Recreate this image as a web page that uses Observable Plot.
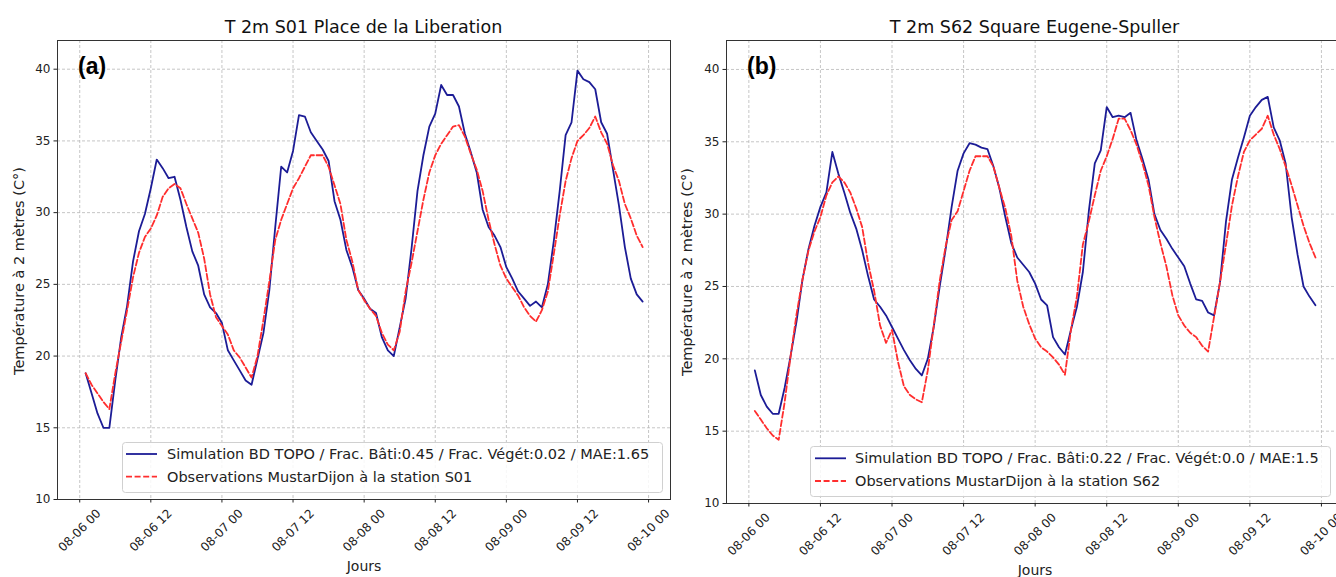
<!DOCTYPE html>
<html>
<head>
<meta charset="utf-8">
<script src="https://cdn.jsdelivr.net/npm/d3@7"></script>
<script src="https://cdn.jsdelivr.net/npm/@observablehq/plot@0.6"></script>
<style>
  html, body { margin: 0; padding: 0; background: #fff; overflow: hidden; }
  #wrap { position: relative; width: 1336px; height: 577px; overflow: hidden; }
  .panel { position: absolute; top: 0; width: 690px; height: 577px; }
  .panel svg { max-width: none !important; }
  #overlay { position: absolute; left: 0; top: 0; pointer-events: none; }
</style>
</head>
<body>
<div id="wrap">
  <div id="left" class="panel" style="left:0px"></div>
  <div id="right" class="panel" style="left:668px"></div>
  <svg id="overlay" width="1336" height="577"></svg>
</div>
<script>
// ---- Data ----
const hours = [1,2,3,4,5,6,7,8,9,10,11,12,13,14,15,16,17,18,19,20,21,22,23,24,25,26,27,28,29,30,31,32,33,34,35,36,37,38,39,40,41,42,43,44,45,46,47,48,49,50,51,52,53,54,55,56,57,58,59,60,61,62,63,64,65,66,67,68,69,70,71,72,73,74,75,76,77,78,79,80,81,82,83,84,85,86,87,88,89,90,91,92,93,94,95];

const tickHours = [0, 12, 24, 36, 48, 60, 72, 84, 96];
const tickLabels = ["08-06 00", "08-06 12", "08-07 00", "08-07 12", "08-08 00", "08-08 12", "08-09 00", "08-09 12", "08-10 00"];
const yTicks = [10, 15, 20, 25, 30, 35, 40];

const titles = ["T 2m S01 Place de la Liberation", "T 2m S62 Square Eugene-Spuller"];
const panelTags = ["(a)", "(b)"];
const yLabel = "Température à 2 mètres (C°)";
const xLabel = "Jours";
const simLegend = ["Simulation BD TOPO / Frac. Bâti:0.45 / Frac. Végét:0.02 / MAE:1.65",
                   "Simulation BD TOPO / Frac. Bâti:0.22 / Frac. Végét:0.0 / MAE:1.5"];
const obsLegend = ["Observations MustarDijon à la station S01",
                   "Observations MustarDijon à la station S62"];

// S01 Place de la Liberation
const simS01 = [18.8,17.4,16.0,15.0,15.0,18.3,21.3,23.5,26.6,28.7,
                29.9,31.7,33.7,33.1,32.4,32.5,30.9,29.0,27.3,26.3,
                24.3,23.4,23.0,22.3,20.4,19.7,19.0,18.3,18.0,19.8,
                21.6,24.6,29.0,33.2,32.8,34.3,36.8,36.7,35.6,35.0,
                34.4,33.6,30.8,29.5,27.4,26.2,24.6,24.0,23.3,23.0,
                21.3,20.4,20.0,22.0,24.0,27.5,31.5,34.0,36.0,36.9,
                38.9,38.2,38.2,37.4,35.5,34.2,32.8,30.2,29.0,28.4,
                27.6,26.2,25.4,24.5,24.0,23.5,23.8,23.4,25.0,28.0,
                31.5,35.4,36.3,39.9,39.3,39.1,38.6,36.3,35.5,33.0,
                30.5,27.6,25.4,24.3,23.8];
const obsS01 = [18.8,18.0,17.4,16.8,16.3,18.8,21.0,23.2,25.5,27.2,
                28.3,28.9,29.8,31.1,31.7,32.0,31.7,30.6,29.6,28.6,
                26.8,24.3,22.7,22.1,21.5,20.4,19.9,19.2,18.5,20.0,
                22.5,25.2,28.1,29.5,30.6,31.7,32.4,33.2,34.0,34.0,
                34.0,33.2,31.9,30.6,28.1,26.6,24.6,23.9,23.3,22.8,
                21.6,20.8,20.4,21.7,24.5,26.5,28.7,30.9,32.8,34.0,
                34.8,35.4,36.0,36.1,35.3,34.1,33.0,31.5,29.5,27.8,
                26.3,25.4,24.8,24.2,23.4,22.8,22.4,23.2,24.5,27.1,
                29.8,32.2,33.8,35.0,35.4,35.9,36.7,35.6,34.8,33.3,
                32.2,30.6,29.6,28.4,27.6];
// S62 Square Eugene-Spuller
const simS62 = [19.2,17.5,16.7,16.2,16.2,18.0,20.2,22.6,25.5,27.6,
                29.2,30.5,31.5,34.3,32.8,31.5,30.1,29.0,27.5,25.7,
                24.1,23.6,23.0,22.2,21.4,20.6,19.9,19.3,18.85,20.0,
                22.2,25.0,27.6,30.5,33.0,34.2,34.9,34.8,34.6,34.5,
                33.3,31.8,29.8,28.0,27.0,26.5,26.0,25.2,24.1,23.7,
                21.5,20.8,20.3,22.0,23.6,26.0,30.2,33.5,34.4,37.4,
                36.7,36.8,36.7,37.0,35.1,33.8,32.4,30.0,28.9,28.3,
                27.6,27.0,26.4,25.2,24.1,24.0,23.2,23.0,25.3,29.5,
                32.4,33.9,35.3,36.8,37.4,37.9,38.1,36.0,35.1,33.5,
                29.8,27.2,25.0,24.3,23.7];
const obsS62 = [16.4,15.8,15.2,14.7,14.4,17.0,20.2,23.1,25.5,27.5,
                28.8,29.8,31.3,32.2,32.6,32.2,31.5,30.4,29.1,26.6,
                24.7,22.3,21.1,22.0,19.8,18.1,17.5,17.2,17.0,19.2,
                22.3,25.4,27.8,29.6,30.2,31.6,33.0,34.0,34.0,34.0,
                33.3,31.8,30.4,28.5,25.4,23.6,22.4,21.4,20.8,20.5,
                20.1,19.6,18.9,22.0,24.3,27.9,29.5,31.3,33.0,34.0,
                35.2,36.6,36.6,35.8,34.8,33.5,32.0,29.8,28.0,26.4,
                24.4,23.0,22.3,21.8,21.5,20.9,20.5,22.9,25.3,27.9,
                30.6,32.6,34.3,35.1,35.5,35.9,36.8,35.5,34.5,33.3,
                32.0,30.6,29.2,28.0,27.0];

// ---- Style ----
const SIM_COLOR = "#1c1c96";
const OBS_COLOR = "#ff2e2e";
const GRID = "#b8b8b8";

function panel(sim, obs, m) {
  const simData = hours.map((h, i) => ({h, v: sim[i]}));
  const obsData = hours.map((h, i) => ({h, v: obs[i]}));
  return Plot.plot({
    width: m.width, height: 577,
    marginLeft: m.left, marginRight: m.right, marginTop: m.top, marginBottom: m.bottom,
    style: {fontFamily: "DejaVu Sans, sans-serif", fontSize: "12px", color: "#222", background: "transparent", overflow: "visible", maxWidth: "none"},
    x: {domain: [-3.75, 99.7], axis: null},
    y: {domain: [10, 42], axis: null},
    marks: [
      Plot.gridX(tickHours, {stroke: GRID, strokeOpacity: 1, strokeDasharray: "3,2", strokeWidth: 0.8}),
      Plot.gridY(yTicks, {stroke: GRID, strokeOpacity: 1, strokeDasharray: "3,2", strokeWidth: 0.8}),
      Plot.line(simData, {x: "h", y: "v", stroke: SIM_COLOR, strokeWidth: 1.8}),
      Plot.line(obsData, {x: "h", y: "v", stroke: OBS_COLOR, strokeWidth: 1.8, strokeDasharray: "6,2.6"}),
      Plot.frame({stroke: "#333", strokeWidth: 1}),
      Plot.axisY(yTicks, {tickSize: 3.5, tickPadding: 3.5, label: null, fontSize: 12}),
      Plot.axisX(tickHours, {tickSize: 3.5, tickFormat: () => "", label: null}),
      Plot.text(tickHours, {x: d => d, text: (d, i) => tickLabels[i], frameAnchor: "bottom",
        rotate: -45, textAnchor: "middle", lineAnchor: "middle", dy: 31, fontSize: 12, fill: "#222"})
    ]
  });
}

document.getElementById("left").append(panel(simS01, obsS01, {width: 690, left: 57, right: 20, top: 40, bottom: 78}));
document.getElementById("right").append(panel(simS62, obsS62, {width: 690, left: 58, right: 15, top: 40, bottom: 74}));

// ---- Overlay texts & legends ----
const ov = d3.select("#overlay");
const F = "DejaVu Sans, sans-serif";
const cfg = [
  {title: 363.5, ylab: [19, 271], xlab: [364, 571], tag: 78, leg: {x: 122, y: 442, w: 540, h: 50, lx: 126, tx: 167, r1: 454, r2: 476.7}},
  {title: 1034.5, ylab: [687, 272], xlab: [1035, 575], tag: 747, leg: {x: 810, y: 446, w: 520, h: 50, lx: 815, tx: 855, r1: 458.3, r2: 481}}
];
cfg.forEach((c, i) => {
  ov.append("text").attr("x", c.title).attr("y", 33).attr("text-anchor", "middle")
    .attr("font-family", F).attr("font-size", 17.5).attr("fill", "#111").text(titles[i]);
  ov.append("text").attr("transform", `translate(${c.ylab[0]},${c.ylab[1]}) rotate(-90)`)
    .attr("text-anchor", "middle").attr("dominant-baseline", "central")
    .attr("font-family", F).attr("font-size", 14.5).attr("fill", "#222").text(yLabel);
  ov.append("text").attr("x", c.xlab[0]).attr("y", c.xlab[1]).attr("text-anchor", "middle")
    .attr("font-family", F).attr("font-size", 14).attr("fill", "#222").text(xLabel);
  ov.append("text").attr("x", c.tag).attr("y", 73.5)
    .attr("font-family", "Liberation Sans, Arial, sans-serif").attr("font-weight", "bold")
    .attr("font-size", 23).attr("fill", "#000").text(panelTags[i]);
  const L = c.leg;
  ov.append("rect").attr("x", L.x + 0.5).attr("y", L.y + 0.5).attr("width", L.w).attr("height", L.h)
    .attr("rx", 3).attr("fill", "#fff").attr("fill-opacity", 0.85).attr("stroke", "#d0d0d0");
  ov.append("line").attr("x1", L.lx).attr("x2", L.lx + 31).attr("y1", L.r1).attr("y2", L.r1)
    .attr("stroke", SIM_COLOR).attr("stroke-width", 1.8);
  ov.append("line").attr("x1", L.lx).attr("x2", L.lx + 31).attr("y1", L.r2).attr("y2", L.r2)
    .attr("stroke", OBS_COLOR).attr("stroke-width", 1.8).attr("stroke-dasharray", "6,2.6");
  ov.append("text").attr("x", L.tx).attr("y", L.r1).attr("dominant-baseline", "central")
    .attr("font-family", F).attr("font-size", 14.5).attr("fill", "#222").text(simLegend[i]);
  ov.append("text").attr("x", L.tx).attr("y", L.r2).attr("dominant-baseline", "central")
    .attr("font-family", F).attr("font-size", 14.5).attr("fill", "#222").text(obsLegend[i]);
});
</script>
</body>
</html>
